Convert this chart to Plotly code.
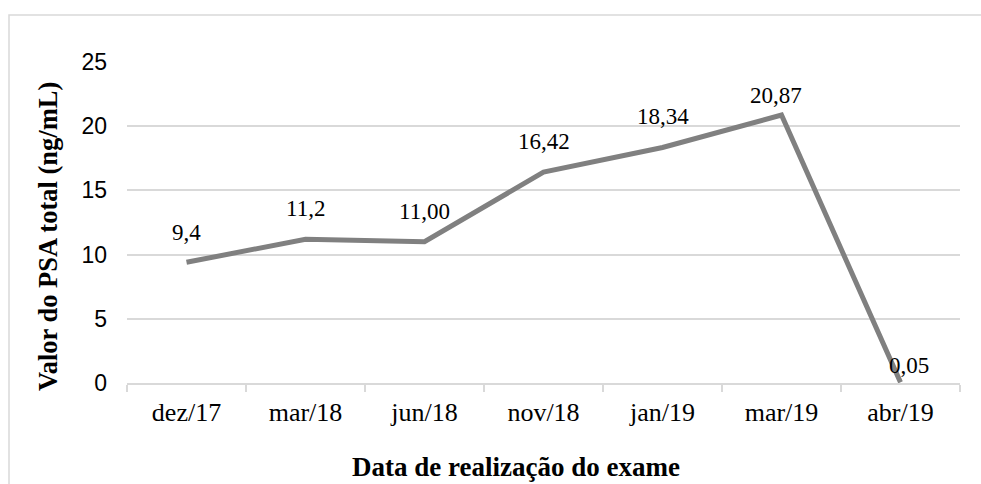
import plotly.graph_objects as go

categories = ["dez/17", "mar/18", "jun/18", "nov/18", "jan/19", "mar/19", "abr/19"]
psa_values = [9.4, 11.2, 11.00, 16.42, 18.34, 20.87, 0.05]
value_labels = ["9,4", "11,2", "11,00", "16,42", "18,34", "20,87", "0,05"]
y_ticks = [0, 5, 10, 15, 20, 25]

# label offsets (pixels) mimicking the Excel data-label placement
label_yshift = [30, 31, 30, 31, 31, 20, 17]
label_xshift = [0, 0, 0, 0, 0, -6, 8]

W, H = 981, 484
L, R, T, B = 127, 21, 62, 101

fig = go.Figure()
fig.add_trace(go.Scatter(
    x=categories, y=psa_values, mode="lines",
    line=dict(color="#808080", width=5),
    hoverinfo="skip", showlegend=False,
))

for c, v, t, ys, xs in zip(categories, psa_values, value_labels, label_yshift, label_xshift):
    fig.add_annotation(x=c, y=v, text=t, showarrow=False, yanchor="middle",
                       yshift=ys, xshift=xs,
                       font=dict(family="Liberation Serif", size=23, color="#000000"))

pw = W - L - R
ph = H - T - B
def px2paper_x(px):
    return (px - L) / pw
def px2paper_y(py):
    return (H - B - py) / ph

# outer chart border
fig.add_shape(type="rect", xref="paper", yref="paper",
              x0=px2paper_x(9), x1=px2paper_x(1000), y0=px2paper_y(500), y1=px2paper_y(15),
              line=dict(color="#d9d9d9", width=1.5), fillcolor="rgba(0,0,0,0)", layer="below")

# axis titles
fig.add_annotation(xref="paper", yref="paper", x=px2paper_x(516), y=px2paper_y(467),
                   text="<b>Data de realização do exame</b>", showarrow=False,
                   xanchor="center", yanchor="middle",
                   font=dict(family="Liberation Serif", size=27, color="#000000"))
fig.add_annotation(xref="paper", yref="paper", x=px2paper_x(48), y=px2paper_y(237),
                   text="<b>Valor do PSA total (ng/mL)</b>", showarrow=False, textangle=-90,
                   xanchor="center", yanchor="middle",
                   font=dict(family="Liberation Serif", size=26.5, color="#000000"))

fig.update_layout(
    width=W, height=H,
    margin=dict(l=L, r=R, t=T, b=B),
    paper_bgcolor="white", plot_bgcolor="white",
    xaxis=dict(type="category", range=[-0.5, 6.5], tickson="boundaries",
               ticks="outside", ticklen=7, tickcolor="#d9d9d9", tickwidth=1.5,
               showline=True, linecolor="#d9d9d9", linewidth=1.5, showgrid=False,
               ticklabelstandoff=5,
               tickfont=dict(family="Liberation Serif", size=26, color="#000000")),
    yaxis=dict(range=[0, 25], tickvals=y_ticks, showgrid=True, gridcolor="#d9d9d9", gridwidth=1.5,
               zeroline=False, showline=False, ticks="", ticklabelstandoff=19,
               tickfont=dict(family="Liberation Sans", size=23, color="#000000")),
)

fig.write_html("out.html", config={"displayModeBar": False},
               post_script="document.body.style.margin='0';document.body.style.overflow='hidden';")
